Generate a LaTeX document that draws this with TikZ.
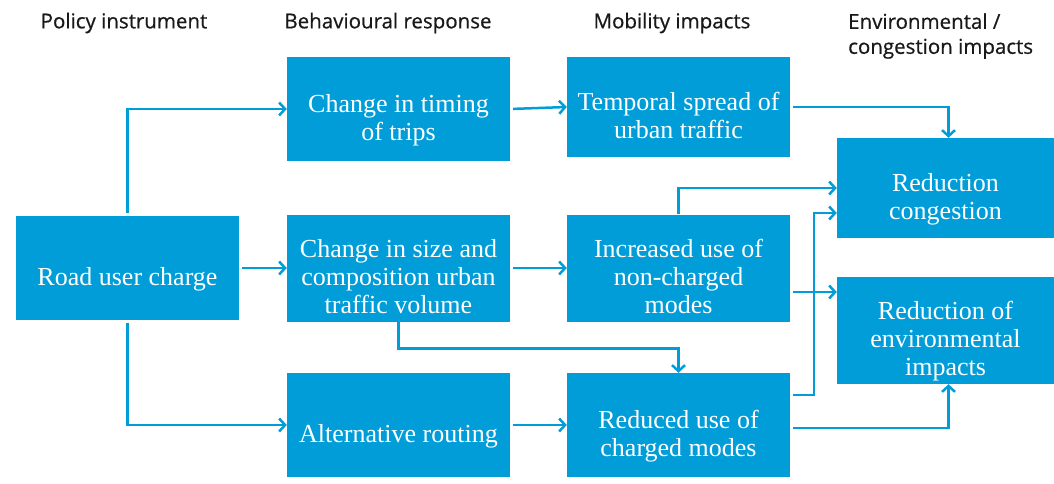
\documentclass[tikz,border=0pt]{standalone}
\usepackage{fontspec}
\setmainfont{Liberation Serif}
\newfontfamily\hdfont[FakeBold=0.6]{Open Sans}
\usetikzlibrary{arrows.meta}
\definecolor{boxblue}{RGB}{0,157,217}
\newcommand\bt[1]{\raisebox{0pt}[\dimexpr\height+23pt\relax][\depth]{\begin{tabular}{@{}c@{}}#1\end{tabular}}}
\begin{document}
\begin{tikzpicture}[x=1pt,y=-1pt,
  box/.style={fill=boxblue, draw=none, text=white, inner sep=0pt,
    minimum width=223pt, minimum height=104pt, font=\fontsize{26}{28}\selectfont},
  endbox/.style={box, minimum width=217pt, minimum height=100pt},
  hd/.style={font=\hdfont\fontsize{20.5}{25}\selectfont, inner sep=0pt, text=black!90},
  arr/.style={draw=boxblue, line width=2.5pt, -{Straight Barb[length=6pt,width=13pt]}, shorten <=3pt}]
\useasboundingbox (0,0) rectangle (1054,484);
% headers
\node[hd] (h1) at (124,23) {Policy instrument};
\node[hd] (h2) at (388,23) {Behavioural response};
\node[hd] (h3) at (672,23) {Mobility impacts};
\node[hd, anchor=west, align=left] (h4) at (848,36) {Environmental /\\congestion impacts};
% boxes
\node[box] (rc) at (127.5,268) {\bt{Road user charge}};
\node[box] (timing) at (398.5,109) {\bt{Change in timing\\of trips}};
\node[box] (size) at (398.5,268) {\bt{Change in size and\\composition urban\\traffic volume}};
\node[box] (alt) at (398.5,425) {\bt{Alternative routing}};
\node[box, minimum height=100pt] (temp) at (678.5,107) {\bt{Temporal spread of\\urban traffic}};
\node[box] (incr) at (678.5,268) {\bt{Increased use of\\non-charged\\modes}};
\node[box] (red) at (678.5,425) {\bt{Reduced use of\\charged modes}};
\node[endbox] (cong) at (945.5,188) {\bt{Reduction\\congestion}};
\node[endbox, minimum height=101pt] (env) at (945.5,330.5) {\bt{Reduction of\\environmental\\impacts}};
% connectors
\draw[arr] (rc.north) |- (timing.west);
\draw[arr] (rc.east) -- (size.west);
\draw[arr] (rc.south) |- (alt.west);
\draw[arr] (timing.east) -- (temp.west);
\draw[arr] (size.east) -- (incr.west);
\draw[arr] (alt.east) -- (red.west);
\draw[arr, shorten <=0pt] (size.south) -- ++(0,27) -| (red.north);
\draw[arr] (temp.east) -| ([xshift=3pt]cong.north);
\draw[arr, shorten <=0pt] (incr.north) |- (cong.west);
\draw[arr] ([yshift=30pt]red.east) -- ++(24,0) |- ([yshift=-25pt]cong.west);
\coordinate (p) at ([yshift=-24pt]incr.east);
\draw[arr] (p) -- (p -| env.west);
\draw[arr] ([yshift=-3pt]red.east) -| ([xshift=3pt]env.south);
\end{tikzpicture}
\end{document}
